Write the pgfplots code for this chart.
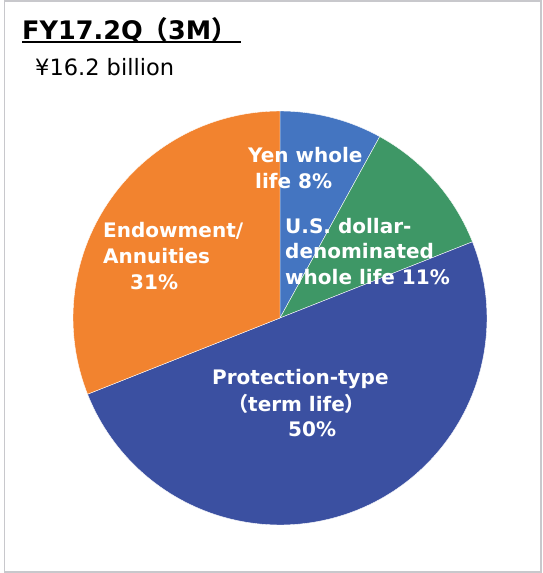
\documentclass[border=0pt]{standalone}
\usepackage{pgfplots}
\pgfplotsset{compat=1.18}
\usepgfplotslibrary{polar}
\usepackage{fontspec}
\setmainfont{DejaVu Sans}
\newfontfamily\cjk{Noto Sans CJK JP}
\definecolor{yenblue}{RGB}{68,117,193}
\definecolor{usdgreen}{RGB}{62,151,102}
\definecolor{protblue}{RGB}{59,80,161}
\definecolor{endoworange}{RGB}{242,131,47}
\definecolor{frame}{RGB}{200,200,204}
% shares in percent, clockwise from 12 o'clock
\def\pYen{8}
\def\pUSD{11}
\def\pProt{50}
\def\pEndow{31}
\pgfmathsetmacro\aA{90}
\pgfmathsetmacro\aB{\aA-3.6*\pYen}
\pgfmathsetmacro\aC{\aB-3.6*\pUSD}
\pgfmathsetmacro\aD{\aC-3.6*\pProt}
\pgfmathsetmacro\aE{\aD-3.6*\pEndow}
\begin{document}
\begin{tikzpicture}[x=1pt,y=1pt]
\useasboundingbox (0,0) rectangle (542,573);
\draw[frame, line width=1.5pt] (4.5,1.2) rectangle (540.8,572);
\begin{polaraxis}[
  at={(280pt,255pt)}, anchor=center,
  scale only axis, width=414pt, height=414pt,
  hide axis, xmin=0, xmax=360, ymin=0, ymax=1,
  clip=false]
\addplot[fill=yenblue, draw=white, line width=0.4pt, domain=\aB:\aA, samples=40] {1} -- (axis cs:0,0) -- cycle;
\addplot[fill=usdgreen, draw=white, line width=0.4pt, domain=\aC:\aB, samples=40] {1} -- (axis cs:0,0) -- cycle;
\addplot[fill=protblue, draw=white, line width=0.4pt, domain=\aD:\aC, samples=120] {1} -- (axis cs:0,0) -- cycle;
\addplot[fill=endoworange, draw=white, line width=0.4pt, domain=\aE:\aD, samples=80] {1} -- (axis cs:0,0) -- cycle;
\end{polaraxis}
% title
\node[anchor=base west, inner sep=0, font=\fontsize{25.5}{30}\selectfont\bfseries] at (22,533.7) {FY17.2Q{\cjk （}3M{\cjk ）}};
\draw[black, line width=2pt] (22,531.3) -- (241,531.3);
\node[anchor=base west, inner sep=0, font=\fontsize{22.5}{26}\selectfont] at (35,497) {¥16.2 billion};
% labels
\begin{scope}[every node/.style={anchor=base west, inner sep=0, text=white, font=\fontsize{20}{24}\selectfont\bfseries}]
\node at (248,410.3) {Yen whole};
\node at (255,384.7) {life 8\%};
\node at (285,339.7) {U.S. dollar-};
\node at (285,314.7) {denominated};
\node at (285,288.7) {whole life 11\%};
\node at (103,335.7) {Endowment/};
\node at (103,309.7) {Annuities};
\node at (130,283) {31\%};
\node at (212,188) {Protection-type};
\node at (228,161.3) {{\cjk （}term life{\cjk ）}};
\node at (288,136) {50\%};
\end{scope}
\end{tikzpicture}
\end{document}
